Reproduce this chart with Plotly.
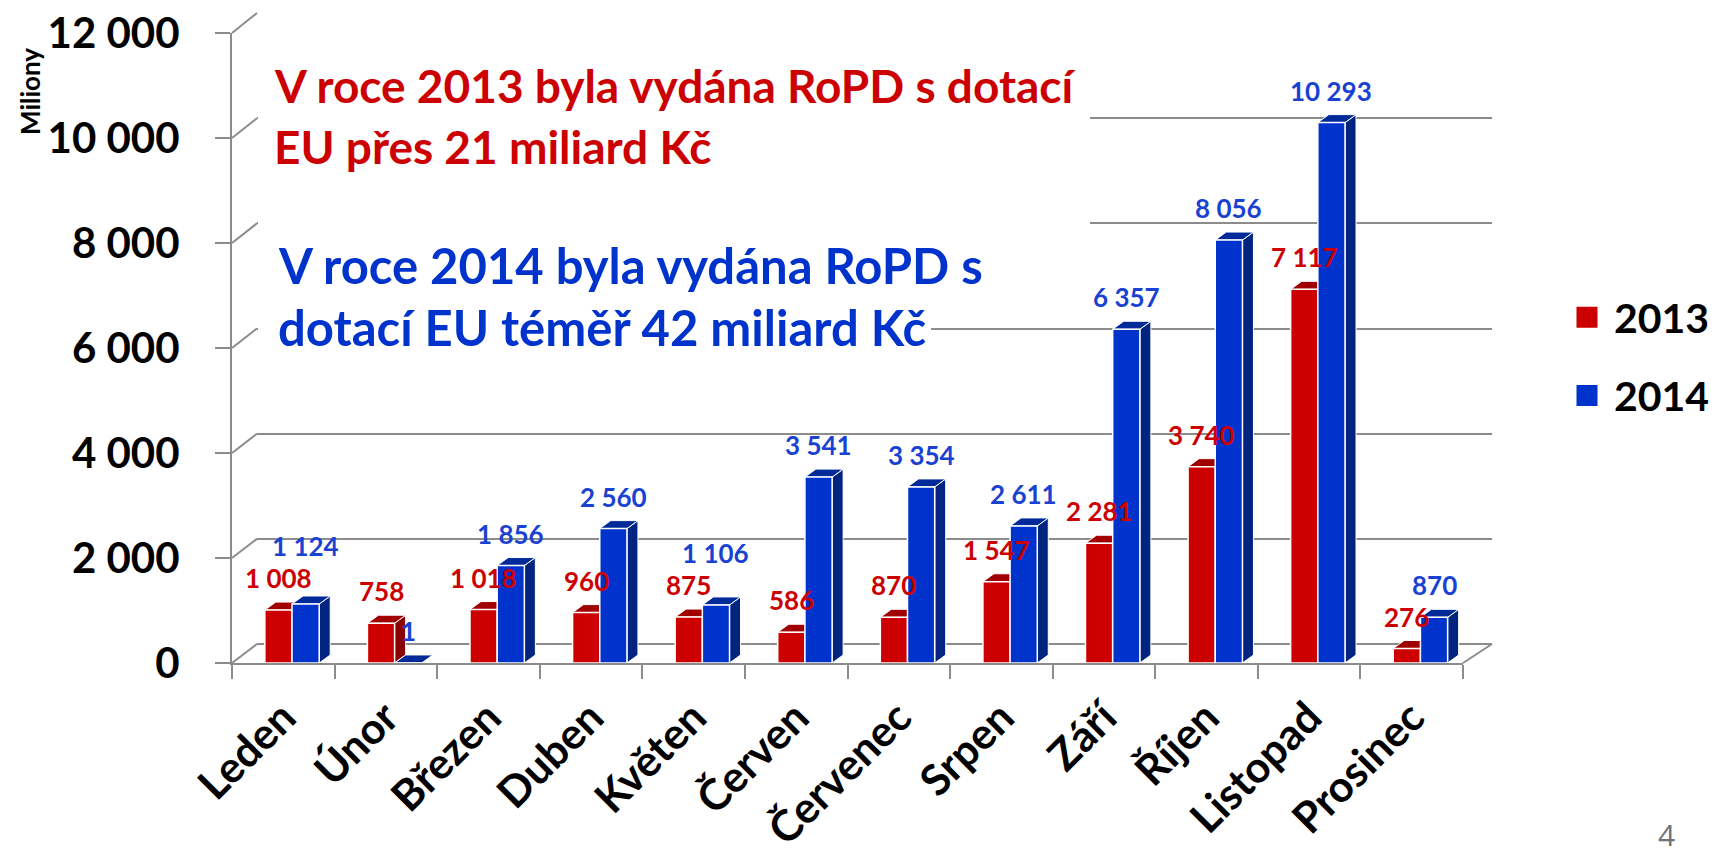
import plotly.graph_objects as go

# ---------------- data ----------------
months = ["Leden", "Únor", "Březen", "Duben", "Květen", "Červen",
          "Červenec", "Srpen", "Září", "Říjen", "Listopad", "Prosinec"]
values_2013 = [1008, 758, 1018, 960, 875, 586, 870, 1547, 2281, 3740, 7117, 276]
values_2014 = [1124, 1, 1856, 2560, 1106, 3541, 3354, 2611, 6357, 8056, 10293, 870]
series_names = ["2013", "2014"]
y_ticks = [0, 2000, 4000, 6000, 8000, 10000, 12000]
text_2013 = ["V roce 2013 byla vydána RoPD s dotací", "EU přes 21 miliard Kč"]
text_2014 = ["V roce 2014 byla vydána RoPD s", "dotací EU téměř 42 miliard Kč"]
y_title = "Miliony"
page_number = "4"

# ---------------- styles / geometry ----------------
W, H = 1717, 858
OFF = 8  # page body margin of the html page
FONT = "Lato"
RED, BLUE = "#CC0000", "#0033CC"
RED_SIDE, BLUE_SIDE = "#8B0000", "#00247F"
RED_TOP, BLUE_TOP = "#A00000", "#002A9A"
LABEL_BLUE = "#1A42D2"
GRID = "#8C8C8C"

# front plane (window pixels)
FX0, FX1, FY0, FY1 = 232, 1463, 663, 33
# back wall (window pixels)
BX0, BX1, BY0, BY1 = 257, 1492, 644, 13
YMAX = 12000

def px(x):
    return (x - OFF) / W

def py(y):
    return 1 - (y - OFF) / H

BAR_W = 0.265
RED_OFF = -0.18
BLUE_OFF = RED_OFF + BAR_W
cat_px = (FX1 - FX0) / len(months)
bar_px = BAR_W * cat_px
unit_px = (FY0 - FY1) / YMAX
DEPTH_PX = 11
RISE_PX = 8
rise = RISE_PX / unit_px

fig = go.Figure()

# invisible trace so the back-wall subplot exists
fig.add_trace(go.Scatter(x=[None], y=[None], xaxis="x", yaxis="y",
                         showlegend=False, hoverinfo="skip"))

fig.add_trace(go.Bar(x=months, y=values_2013, name=series_names[0],
                     xaxis="x2", yaxis="y2", width=BAR_W, offset=RED_OFF,
                     marker=dict(color=RED, line=dict(color="white", width=1.5)),
                     showlegend=False))
fig.add_trace(go.Bar(x=months, y=values_2014, name=series_names[1],
                     xaxis="x2", yaxis="y2", width=BAR_W, offset=BLUE_OFF,
                     marker=dict(color=BLUE, line=dict(color="white", width=1.5)),
                     showlegend=False))

# legend proxies
for nm, col in zip(series_names, [RED, BLUE]):
    fig.add_trace(go.Scatter(x=[None], y=[None], xaxis="x2", yaxis="y2", mode="markers",
                             name=nm, legendgroup=nm,
                             marker=dict(symbol="square", size=16, color=col,
                                         line=dict(color=col, width=5))))

shapes = []
# 3D side and top faces of bars
for vals, off, side, top in [(values_2013, RED_OFF, RED_SIDE, RED_TOP),
                             (values_2014, BLUE_OFF, BLUE_SIDE, BLUE_TOP)]:
    for i, v in enumerate(vals):
        anchor = i + off + BAR_W
        side_path = (f"M0,0 L{DEPTH_PX},{rise} L{DEPTH_PX},{v + rise} L0,{v} Z")
        top_path = (f"M0,{v} L{DEPTH_PX},{v + rise} L{DEPTH_PX - bar_px},{v + rise} "
                    f"L{-bar_px},{v} Z")
        for p, c in [(side_path, side), (top_path, top)]:
            shapes.append(dict(type="path", xref="x2", yref="y2", xsizemode="pixel",
                               xanchor=anchor, path=p, fillcolor=c,
                               line=dict(color="white", width=1), layer="between"))

# side-wall diagonals at each tick
for t in y_ticks:
    yf = FY0 - (FY0 - FY1) * t / YMAX
    yb = BY0 - (BY0 - BY1) * t / YMAX
    shapes.append(dict(type="line", xref="paper", yref="paper",
                       x0=px(FX0), y0=py(yf), x1=px(BX0), y1=py(yb),
                       line=dict(color=GRID, width=2), layer="below"))
# right floor edge
shapes.append(dict(type="line", xref="paper", yref="paper",
                   x0=px(FX1), y0=py(FY0), x1=px(BX1), y1=py(BY0),
                   line=dict(color=GRID, width=2), layer="below"))

# white text boxes hiding the back gridlines
shapes.append(dict(type="rect", xref="paper", yref="paper",
                   x0=px(BX0 + 1), x1=px(1090), y0=py(40), y1=py(236),
                   fillcolor="white", line=dict(width=0), layer="above"))
shapes.append(dict(type="rect", xref="paper", yref="paper",
                   x0=px(BX0 + 1), x1=px(931), y0=py(236), y1=py(365),
                   fillcolor="white", line=dict(width=0), layer="above"))

annotations = []
# data labels
LABEL_GAP = 32
for i, (a, b) in enumerate(zip(values_2013, values_2014)):
    ra = LABEL_GAP
    rb = LABEL_GAP
    ya_px = a * unit_px + ra
    yb_px = b * unit_px + rb
    if abs(yb_px - ya_px) < 28:
        rb = ya_px + 32 - b * unit_px
    annotations.append(dict(x=i + RED_OFF + BAR_W / 2, y=a, xref="x2", yref="y2",
                            text=f"{a:,}".replace(",", " "), showarrow=False,
                            yshift=ra, yanchor="middle",
                            font=dict(family=FONT, size=26, color=RED, weight="bold")))
    annotations.append(dict(x=i + BLUE_OFF + BAR_W / 2, y=b, xref="x2", yref="y2",
                            text=f"{b:,}".replace(",", " "), showarrow=False,
                            yshift=rb, yanchor="middle",
                            font=dict(family=FONT, size=26, color=LABEL_BLUE, weight="bold")))

# big texts
for line, yc in zip(text_2013, [85, 146]):
    annotations.append(dict(x=px(272), y=py(yc), xref="paper", yref="paper",
                            xanchor="left", yanchor="middle", text=line, showarrow=False,
                            font=dict(family=FONT, size=46, color=RED, weight="bold")))
for line, yc in zip(text_2014, [265, 327]):
    annotations.append(dict(x=px(276), y=py(yc), xref="paper", yref="paper",
                            xanchor="left", yanchor="middle", text=line, showarrow=False,
                            font=dict(family=FONT, size=49, color=BLUE, weight="bold")))

annotations.append(dict(x=px(30), y=py(92), xref="paper", yref="paper", text=y_title,
                        textangle=-90, showarrow=False, xanchor="center", yanchor="middle",
                        font=dict(family=FONT, size=26, color="black", weight="bold")))
annotations.append(dict(x=px(1666), y=py(857), xref="paper", yref="paper", text=page_number,
                        showarrow=False, xanchor="center", yanchor="bottom",
                        font=dict(family="Open Sans", size=30, color="#6F7178")))

fig.update_layout(
    width=W, height=H, autosize=False,
    margin=dict(l=0, r=0, t=0, b=0, autoexpand=False),
    paper_bgcolor="white", plot_bgcolor="rgba(0,0,0,0)",
    separators=", ",
    barmode="overlay",
    font=dict(family=FONT, color="black"),
    xaxis=dict(domain=[px(BX0), px(BX1)], range=[0, 1], anchor="y",
               showgrid=False, zeroline=False, showticklabels=False, ticks="",
               showline=False, fixedrange=True, automargin=False),
    yaxis=dict(domain=[py(BY0), py(BY1)], range=[0, YMAX], anchor="x",
               tickvals=y_ticks, showgrid=True, gridcolor=GRID, gridwidth=2,
               zeroline=True, zerolinecolor=GRID, zerolinewidth=2,
               showticklabels=False, ticks="", showline=False, fixedrange=True,
               automargin=False),
    xaxis2=dict(domain=[px(FX0), px(FX1)], anchor="y2", type="category",
                range=[-0.5, len(months) - 0.5], tickson="boundaries",
                ticks="outside", ticklen=14, tickwidth=2, tickcolor=GRID,
                showline=True, linecolor=GRID, linewidth=2, showgrid=False,
                tickangle=-45, automargin=False, ticklabelstandoff=10,
                ticklabeloverflow="allow",
                tickfont=dict(family=FONT, size=43, color="black", weight="bold")),
    yaxis2=dict(domain=[py(FY0), py(FY1)], anchor="x2", range=[0, YMAX],
                tickvals=y_ticks, tickformat=",d",
                ticks="outside", ticklen=15, tickwidth=2, tickcolor=GRID,
                showline=True, linecolor=GRID, linewidth=2, showgrid=False, zeroline=False,
                ticklabelstandoff=27, automargin=False, ticklabeloverflow="allow",
                tickfont=dict(family=FONT, size=42, color="black", weight="bold")),
    legend=dict(x=px(1560), xanchor="left", y=py(284), yanchor="top",
                traceorder="grouped", tracegroupgap=22, itemwidth=44,
                font=dict(family=FONT, size=41, color="black", weight="bold"),
                itemsizing="trace", bgcolor="rgba(0,0,0,0)"),
    shapes=shapes,
    annotations=annotations,
)

fig.write_html("out.html")
